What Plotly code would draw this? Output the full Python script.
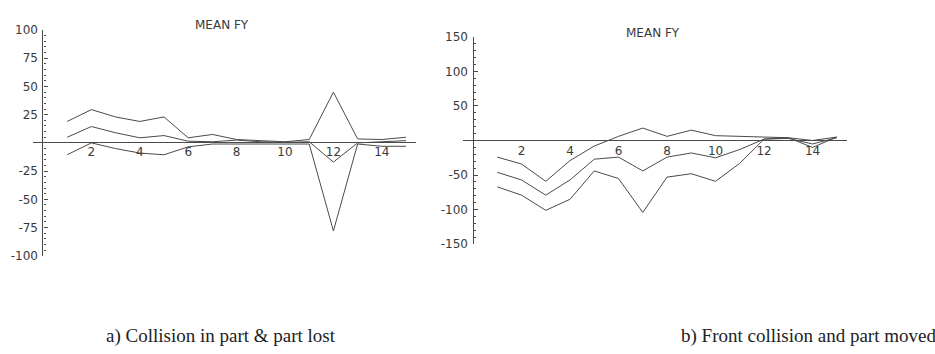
import plotly.graph_objects as go

# ---- data ----
steps = list(range(1, 16))

# a) Collision in part & part lost
a_upper = [19, 29.5, 23, 19, 23, 4.5, 7.5, 3, 2, 1, 3, 45, 3.5, 3, 5]
a_mid = [5, 14.5, 9, 4.5, 6.5, 1.5, 1, 2.5, 1, 0.5, 1, -17, 0, 1, 2]
a_lower = [-10.5, 0, -5, -9, -10.5, -3.5, -1, -1, -1, -1, -1, -78, -1, -3, -3]

# b) Front collision and part moved
b_upper = [-24, -34, -59, -29, -8, 6, 18, 6, 15, 7, 6, 5, 4, 0, 5]
b_mid = [-46, -57, -79, -57, -27, -24, -44, -24, -18, -25, -13, 2, 3, -5, 4]
b_lower = [-67, -79, -101, -85, -44, -55, -104, -53, -48, -59, -33, 2, 4, -10, 5]

a_yticks = [100, 75, 50, 25, -25, -50, -75, -100]
b_yticks = [150, 100, 50, -50, -100, -150]
xticks = [2, 4, 6, 8, 10, 12, 14]

titles = ["MEAN FY", "MEAN FY"]
captions = ["a) Collision in part & part lost", "b) Front collision and part moved"]

# ---- layout geometry (pixels) ----
W, H = 935, 354
def px(x):
    return x / W
def py(y):
    return 1 - y / H

LINE = "#4a4a4a"
TXT = "#3a3a3a"
tickfont = dict(family="DejaVu Sans", size=12, color=TXT)

fig = go.Figure()
for s in (a_upper, a_mid, a_lower):
    fig.add_trace(go.Scatter(x=steps, y=s, mode="lines", line=dict(color=LINE, width=1),
                             xaxis="x", yaxis="y", showlegend=False, hoverinfo="skip"))
for s in (b_upper, b_mid, b_lower):
    fig.add_trace(go.Scatter(x=steps, y=s, mode="lines", line=dict(color=LINE, width=1),
                             xaxis="x2", yaxis="y2", showlegend=False, hoverinfo="skip"))

def fmt(v):
    return str(v) if v >= 0 else "-" + str(-v)

xr = [-0.4, 15.4]
fig.update_layout(
    width=W, height=H,
    margin=dict(l=0, r=0, t=0, b=0),
    paper_bgcolor="white", plot_bgcolor="white",
    xaxis=dict(domain=[px(33.3), px(415.7)], range=xr, anchor="free", position=py(141),
               tickvals=xticks, ticktext=[str(v) for v in xticks], tickfont=tickfont,
               showgrid=False, showline=False, zeroline=True, zerolinecolor=LINE, zerolinewidth=1,
               ticks="", ticklabelstandoff=1),
    yaxis=dict(domain=[py(259), py(24)], range=[-100, 100], anchor="free", position=px(43),
               tickvals=a_yticks, ticktext=[fmt(v) for v in a_yticks], tickfont=tickfont,
               showgrid=False, showline=False, zeroline=True, zerolinecolor=LINE, zerolinewidth=1,
               ticks="inside", ticklen=4, tickcolor=LINE, ticklabelstandoff=5,
               minor=dict(dtick=5, tick0=0, ticks="inside", ticklen=2, tickcolor=LINE, showgrid=False)),
    xaxis2=dict(domain=[px(463.3), px(846.5)], range=xr, anchor="free", position=py(139),
                tickvals=xticks, ticktext=[str(v) for v in xticks], tickfont=tickfont,
                showgrid=False, showline=False, zeroline=True, zerolinecolor=LINE, zerolinewidth=1,
                ticks="", ticklabelstandoff=1),
    yaxis2=dict(domain=[py(247), py(31)], range=[-150, 150], anchor="free", position=px(473),
                tickvals=b_yticks, ticktext=[fmt(v) for v in b_yticks], tickfont=tickfont,
                showgrid=False, showline=False, zeroline=True, zerolinecolor=LINE, zerolinewidth=1,
                ticks="inside", ticklen=4, tickcolor=LINE, ticklabelstandoff=5,
                minor=dict(dtick=10, tick0=0, ticks="inside", ticklen=2, tickcolor=LINE, showgrid=False)),
)

# titles
ann = dict(xref="paper", yref="paper", showarrow=False, xanchor="center", yanchor="middle")
fig.add_annotation(x=px(222), y=py(19), text=titles[0],
                   font=dict(family="DejaVu Sans", size=12, color=TXT), **ann)
fig.add_annotation(x=px(653), y=py(27), text=titles[1],
                   font=dict(family="DejaVu Sans", size=12, color=TXT), **ann)
# captions
fig.add_annotation(x=px(221), y=py(343), text=captions[0],
                   font=dict(family="Liberation Serif", size=19, color="#222"), **ann)
fig.add_annotation(x=px(808), y=py(343), text=captions[1],
                   font=dict(family="Liberation Serif", size=19, color="#222"), **ann)

fig.write_html("out.html", config={"displayModeBar": False},
               post_script="document.body.style.margin='0px';")
